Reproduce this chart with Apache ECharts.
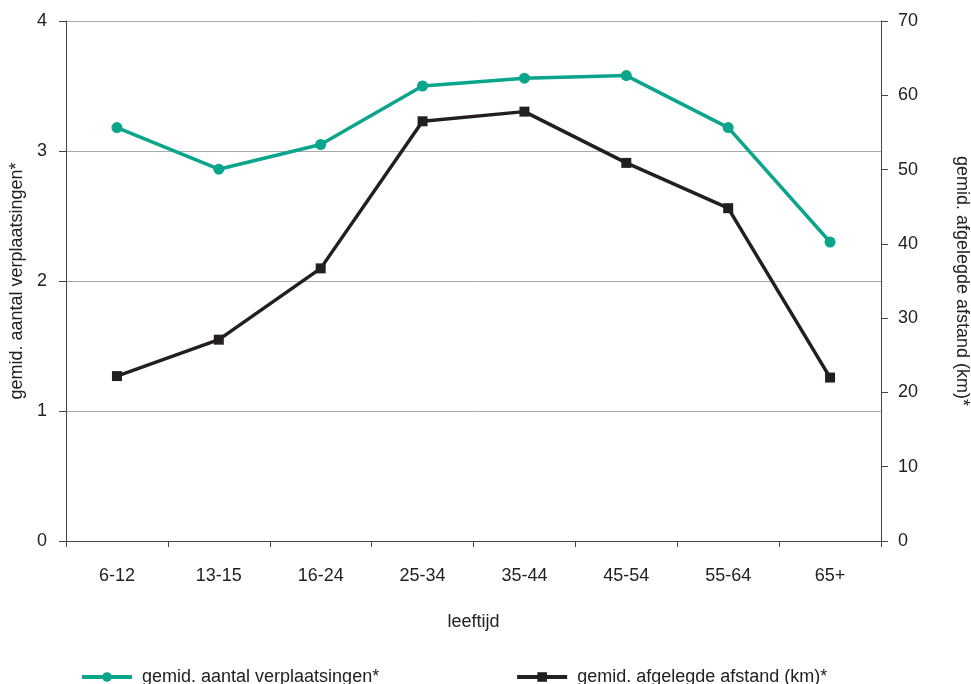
<!DOCTYPE html>
<html><head><meta charset="utf-8">
<script src="https://cdn.jsdelivr.net/npm/echarts@6/dist/echarts.min.js"></script>
<style>html,body{margin:0;padding:0;background:#fff}#c{width:971px;height:684px}</style>
</head><body><div id="c"></div>
<script>
const categories = ['6-12','13-15','16-24','25-34','35-44','45-54','55-64','65+'];
const verplaatsingen = [3.18, 2.86, 3.05, 3.50, 3.56, 3.58, 3.18, 2.30];
const afstand = [22.2, 27.1, 36.7, 56.5, 57.8, 50.9, 44.8, 22.0];
const leftTicks = [0, 1, 2, 3, 4];
const rightTicks = [0, 10, 20, 30, 40, 50, 60, 70];

const FONT = '"Liberation Sans", Arial, sans-serif';
const FS = 18;
const chart = echarts.init(document.getElementById('c'));
chart.setOption({
  animation: false,
  textStyle: { fontFamily: FONT },
  grid: { left: 66, right: 90, top: 21, bottom: 143, outerBoundsMode: 'none', containLabel: false },
  legend: {
    top: 663, left: 75, itemGap: 136, itemWidth: 50, itemHeight: 12,
    lineStyle: { width: 4 },
    textStyle: { fontSize: FS, color: '#222', fontFamily: FONT, padding: [0, 0, 0, 5] },
    data: ['gemid. aantal verplaatsingen*', 'gemid. afgelegde afstand (km)*']
  },
  xAxis: {
    type: 'category', data: categories, boundaryGap: true,
    name: 'leeftijd', nameLocation: 'middle', nameGap: 72,
    nameTextStyle: { fontSize: FS, color: '#222' },
    axisLine: { lineStyle: { color: '#444', width: 1 } },
    axisTick: { show: true, length: 6, lineStyle: { color: '#444' } },
    axisLabel: { fontSize: FS, color: '#222', margin: 26 }
  },
  yAxis: [
    {
      type: 'value', min: leftTicks[0], max: leftTicks[leftTicks.length - 1], interval: 1,
      name: 'gemid. aantal verplaatsingen*', nameLocation: 'middle', nameGap: 38,
      nameTextStyle: { fontSize: FS, color: '#222' },
      axisLine: { show: true, lineStyle: { color: '#444' } },
      axisTick: { show: true, length: 7, lineStyle: { color: '#444' } },
      axisLabel: { fontSize: FS, color: '#222', margin: 19 },
      splitLine: { show: true, lineStyle: { color: '#aaa', width: 1 } }
    },
    {
      type: 'value', position: 'right', min: rightTicks[0], max: rightTicks[rightTicks.length - 1], interval: 10,
      name: 'gemid. afgelegde afstand (km)*', nameLocation: 'middle', nameGap: 72, nameRotate: -90,
      nameTextStyle: { fontSize: FS, color: '#222' },
      axisLine: { show: true, lineStyle: { color: '#444' } },
      axisTick: { show: true, length: 7, lineStyle: { color: '#444' } },
      axisLabel: { fontSize: FS, color: '#222', margin: 17 },
      splitLine: { show: false }
    }
  ],
  series: [
    {
      name: 'gemid. aantal verplaatsingen*', type: 'line', yAxisIndex: 0,
      data: verplaatsingen, symbol: 'circle', symbolSize: 11,
      itemStyle: { color: '#0aa58a' }, lineStyle: { color: '#0aa58a', width: 3.5 }
    },
    {
      name: 'gemid. afgelegde afstand (km)*', type: 'line', yAxisIndex: 1,
      data: afstand, symbol: 'rect', symbolSize: 10,
      itemStyle: { color: '#231f20' }, lineStyle: { color: '#231f20', width: 3.5 }
    }
  ]
});
</script></body></html>
